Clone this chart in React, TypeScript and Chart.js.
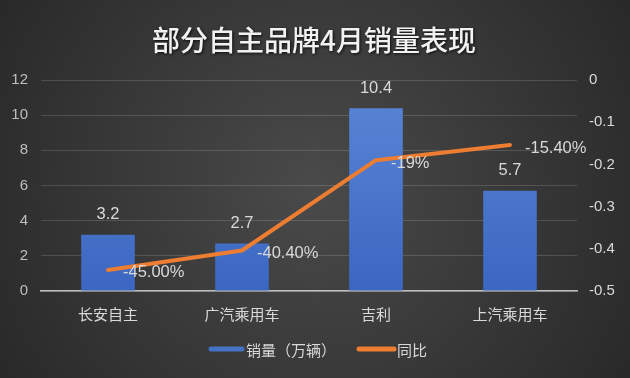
import React, { useEffect, useRef } from "react";
import { Chart, registerables } from "chart.js";

Chart.register(...registerables);

const title = "部分自主品牌4月销量表现";
const categories = ["长安自主", "广汽乘用车", "吉利", "上汽乘用车"];
const salesLabel = "销量（万辆）";
const sales = [3.2, 2.7, 10.4, 5.7];
const yoyLabel = "同比";
const yoy = [-0.45, -0.404, -0.19, -0.154];
const yoyText = ["-45.00%", "-40.40%", "-19%", "-15.40%"];
const salesText = ["3.2", "2.7", "10.4", "5.7"];

const FONT = "'Liberation Sans', 'Noto Sans CJK SC', sans-serif";
const CJK = "'Noto Sans CJK SC', sans-serif";

const decorPlugin = {
  id: "decor",
  beforeDraw(chart: any) {
    const { ctx, width, height } = chart;
    ctx.save();
    const g = ctx.createRadialGradient(width / 2, height / 2, 0, width / 2, height / 2, width * 0.6);
    g.addColorStop(0, "#4a4a4a");
    g.addColorStop(1, "#282828");
    ctx.fillStyle = g;
    ctx.fillRect(0, 0, width, height);
    ctx.restore();
  },
  afterDatasetsDraw(chart: any) {
    const { ctx } = chart;
    ctx.save();
    ctx.font = `16.5px ${FONT}`;
    ctx.fillStyle = "#d9d9d9";
    const barMeta = chart.getDatasetMeta(0);
    barMeta.data.forEach((el: any, i: number) => {
      ctx.textAlign = "center";
      ctx.textBaseline = "middle";
      ctx.fillText(salesText[i], el.x, el.y - 20);
    });
    const lineMeta = chart.getDatasetMeta(1);
    lineMeta.data.forEach((el: any, i: number) => {
      ctx.textAlign = "left";
      ctx.textBaseline = "middle";
      ctx.fillText(yoyText[i], el.x + 15, el.y + 3);
    });
    ctx.restore();
  },
  afterDraw(chart: any) {
    const { ctx, width } = chart;
    ctx.save();
    // title
    ctx.font = `500 28px ${CJK}`;
    ctx.textAlign = "center";
    ctx.textBaseline = "middle";
    ctx.shadowColor = "rgba(0,0,0,0.8)";
    ctx.shadowBlur = 3;
    ctx.shadowOffsetX = 1;
    ctx.shadowOffsetY = 1;
    ctx.fillStyle = "#f2f2f2";
    ctx.fillText(title, width / 2 - 1, 40);
    ctx.restore();

    // legend
    ctx.save();
    ctx.lineWidth = 5;
    ctx.lineCap = "round";
    ctx.strokeStyle = "#4472c4";
    ctx.beginPath();
    ctx.moveTo(211, 349);
    ctx.lineTo(242, 349);
    ctx.stroke();
    ctx.strokeStyle = "#ed7d31";
    ctx.beginPath();
    ctx.moveTo(359, 349);
    ctx.lineTo(394, 349);
    ctx.stroke();
    ctx.font = `15px ${CJK}`;
    ctx.fillStyle = "#d9d9d9";
    ctx.textAlign = "left";
    ctx.textBaseline = "middle";
    ctx.fillText(salesLabel, 246, 350);
    ctx.fillText(yoyLabel, 397, 350);
    ctx.restore();
  },
};

export default function App() {
  const ref = useRef<HTMLCanvasElement>(null);
  useEffect(() => {
    const canvas = ref.current!;
    const chart = new Chart(canvas, {
      type: "bar",
      data: {
        labels: categories,
        datasets: [
          {
            type: "bar",
            label: salesLabel,
            data: sales,
            yAxisID: "y",
            order: 2,
            barPercentage: 0.8,
            categoryPercentage: 0.5,
            borderWidth: 0,
            backgroundColor: (c: any) => {
              const area = c.chart.chartArea;
              if (!area) return "#4472c4";
              const g = c.chart.ctx.createLinearGradient(0, area.top, 0, area.bottom);
              g.addColorStop(0, "#5b86d6");
              g.addColorStop(1, "#3b67c2");
              return g;
            },
          } as any,
          {
            type: "line",
            label: yoyLabel,
            data: yoy,
            yAxisID: "y1",
            order: 1,
            borderColor: "#ed7d31",
            borderWidth: 4,
            pointRadius: 0,
            tension: 0,
            borderCapStyle: "round",
            borderJoinStyle: "round",
          } as any,
        ],
      },
      options: {
        animation: false,
        responsive: false,
        layout: { padding: { top: 80, bottom: 52, left: 0, right: 0 } },
        plugins: {
          legend: { display: false },
          title: { display: false },
          tooltip: { enabled: false },
        },
        scales: {
          x: {
            grid: { display: false },
            border: { display: true, color: "#bfbfbf", width: 1.5 },
            ticks: { color: "#d9d9d9", font: { size: 15, family: CJK }, padding: 6 },
            afterFit: (s: any) => { s.height = 35; },
          },
          y: {
            position: "left",
            min: 0,
            max: 12,
            ticks: { stepSize: 2, color: "#bfbfbf", font: { size: 15, family: FONT }, padding: 13 },
            grid: { color: "rgba(255,255,255,0.15)", drawTicks: false, lineWidth: 1 },
            border: { display: false },
            afterFit: (s: any) => { s.width = 41; },
          },
          y1: {
            position: "right",
            min: -0.5,
            max: 0,
            ticks: { stepSize: 0.1, color: "#d9d9d9", font: { size: 15, family: FONT }, padding: 12 },
            grid: { display: false, drawTicks: false },
            border: { display: false },
            afterFit: (s: any) => { s.width = 53; },
          },
        },
      } as any,
      plugins: [decorPlugin],
    });
    return () => chart.destroy();
  }, []);
  return (
    <div style={{ position: "fixed", left: 0, top: 0, width: 630, height: 378 }}>
      <canvas ref={ref} width={630} height={378} style={{ display: "block", width: 630, height: 378 }} />
    </div>
  );
}
